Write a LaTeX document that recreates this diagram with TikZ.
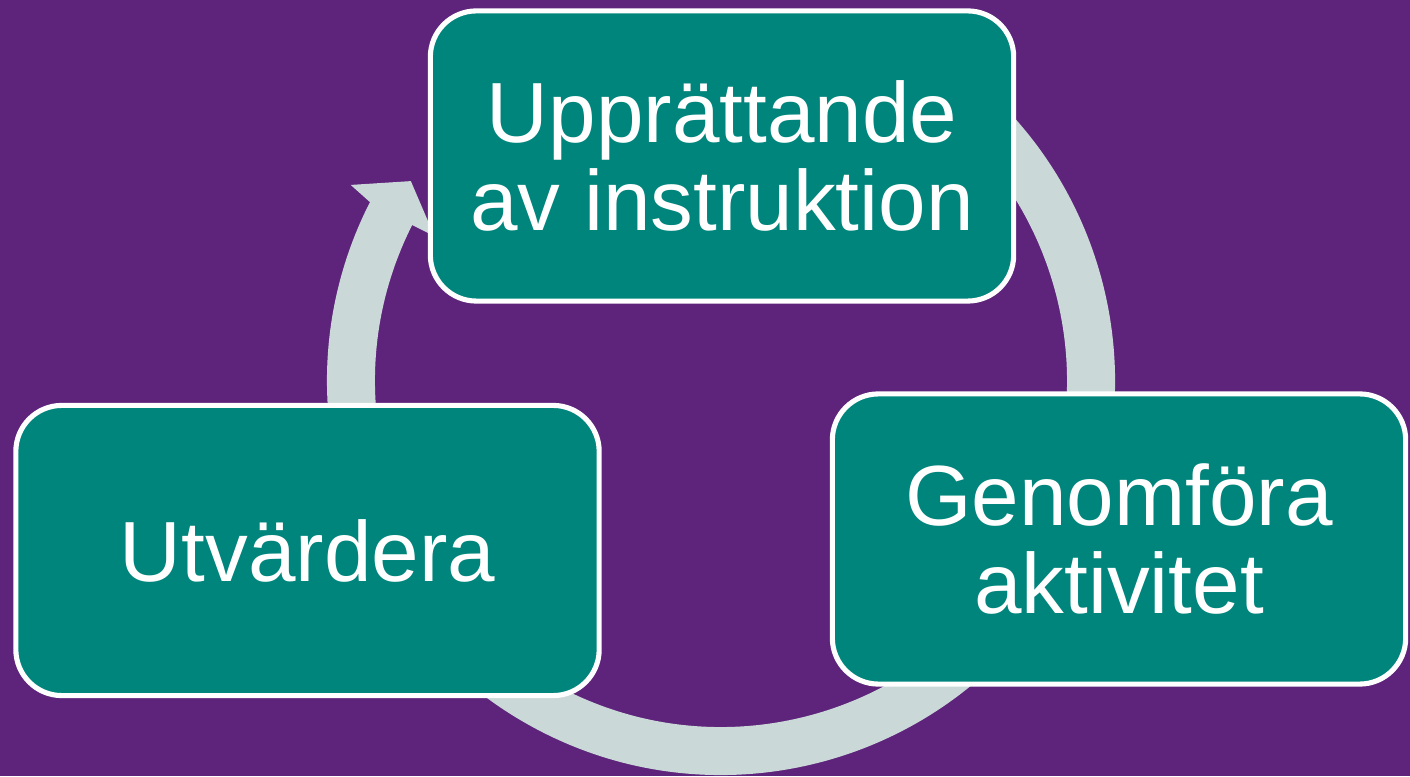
\documentclass[tikz,border=0pt]{standalone}
\usepackage{fontspec}
\setmainfont{Liberation Sans}
\definecolor{bgpurple}{RGB}{94,35,123}
\definecolor{stepteal}{RGB}{0,133,124}
\definecolor{ringgray}{RGB}{202,217,216}
\tikzset{
  stepbox/.style={draw=white, line width=1.45pt, fill=stepteal, rounded corners=0.46cm,
    text=white, align=center, inner sep=0pt, minimum width=5.83cm, minimum height=2.9cm,
    font=\fontsize{24.3}{24.9}\selectfont},
}

\begin{document}
\begin{tikzpicture}[x=0.01cm, y=0.01cm]

% bakgrund
\fill[bgpurple] (0,0) rectangle (1410,776);
\useasboundingbox (0,0) rectangle (1410,776);

% cirkelpil (bakom rutorna), svansen gömd under översta rutan
\begin{scope}[shift={(721,395)}]
\fill[ringgray] (60:394) arc[start angle=60, end angle=-207, radius=394]
  -- (152.1:419) -- (147.2:369) -- (153.2:321) -- (153.2:346)
  arc[start angle=-206.8, end angle=60, radius=346] -- cycle;
\end{scope}

% rutorna
\node[stepbox] (upprattande) at (722,620) {Upprättande\\av instruktion};
\node[stepbox, minimum width=5.73cm] (genomfora) at (1119,237) {Genomföra\\aktivitet};
\node[stepbox] (utvardera) at (307.5,225.5) {Utvärdera};

\end{tikzpicture}
\end{document}
